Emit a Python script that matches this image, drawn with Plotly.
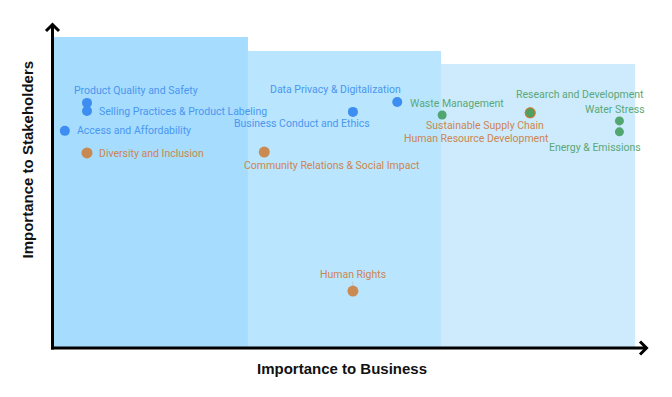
import plotly.graph_objects as go

# ---- data ----
topics = [
    "Product Quality and Safety", "Selling Practices & Product Labeling",
    "Access and Affordability", "Diversity and Inclusion",
    "Community Relations & Social Impact", "Business Conduct and Ethics",
    "Data Privacy & Digitalization", "Waste Management",
    "Sustainable Supply Chain", "Human Resource Development",
    "Research and Development", "Water Stress", "Energy & Emissions",
    "Human Rights",
]
business = [0.60, 0.60, 0.22, 0.60, 3.64, 5.16, 5.92, 6.69, 8.20, 8.20, 8.20, 9.73, 9.73, 5.16]
stakeholders = [7.88, 7.62, 6.98, 6.27, 6.30, 7.59, 7.91, 7.49, 7.56, 7.56, 7.56, 7.30, 6.95, 1.83]
group = ["Governance", "Governance", "Governance", "Social", "Social", "Governance",
         "Governance", "Environment", "Social", "Social", "Environment",
         "Environment", "Environment", "Social"]

zone_x0 = [0.0, 3.36, 6.67]
zone_x1 = [3.36, 6.67, 10.0]
zone_top = [10.0, 9.55, 9.13]

x_title = "Importance to Business"
y_title = "Importance to Stakeholders"

# ---- styles ----
marker_color = {"Governance": "#3d8ef0", "Social": "rgba(206,122,52,0.85)", "Environment": "rgba(72,160,100,0.92)"}
marker_size = {"Governance": 10, "Social": 11, "Environment": 9}
text_color = {"Governance": "#4a97f0", "Social": "#cc8650", "Environment": "#5aa878"}
zone_colors = ["#a6dcfe", "#b9e5fe", "#cdebfd"]

# label placement: (xanchor, xshift, yshift)
label_pos = {
    "Product Quality and Safety": ("left", -15, 12),
    "Selling Practices & Product Labeling": ("left", 10, -1),
    "Access and Affordability": ("left", 10, 0),
    "Diversity and Inclusion": ("left", 10, -1),
    "Community Relations & Social Impact": ("left", -22, -13),
    "Business Conduct and Ethics": ("right", 19, -12),
    "Data Privacy & Digitalization": ("right", 6, 12),
    "Waste Management": ("left", -34, 12),
    "Sustainable Supply Chain": ("right", 16, -13),
    "Human Resource Development": ("right", 21, -26),
    "Research and Development": ("left", -16, 18),
    "Water Stress": ("right", 28, 11),
    "Energy & Emissions": ("right", 24, -16),
    "Human Rights": ("center", 0, 17),
}

fig = go.Figure()

for i in range(len(zone_x0)):
    fig.add_shape(type="rect", xref="x", yref="y", x0=zone_x0[i], x1=zone_x1[i],
                  y0=0, y1=zone_top[i], fillcolor=zone_colors[i], line_width=0, layer="below")

for g in ["Governance", "Social", "Environment"]:
    idx = [i for i in range(len(topics)) if group[i] == g]
    fig.add_trace(go.Scatter(
        x=[business[i] for i in idx], y=[stakeholders[i] for i in idx],
        text=[topics[i] for i in idx], mode="markers", name=g,
        marker=dict(color=marker_color[g], size=marker_size[g], line_width=0),
        hoverinfo="text", showlegend=False,
    ))

annotations = []
for i, t in enumerate(topics):
    xa, xs, ys = label_pos[t]
    annotations.append(dict(
        x=business[i], y=stakeholders[i], xref="x", yref="y", text=t,
        showarrow=False, xanchor=xa, yanchor="middle", xshift=xs, yshift=ys,
        font=dict(family="Roboto", size=10.5, color=text_color[group[i]]),
    ))
# leader line for Human Rights
hr = topics.index("Human Rights")
annotations.append(dict(x=business[hr], y=stakeholders[hr], xref="x", yref="y", text="",
                        showarrow=True, ax=0, ay=-11, arrowhead=0, arrowwidth=0.6,
                        arrowcolor="rgba(200,140,90,0.5)", standoff=4))

annotations.append(dict(x=0.4866, y=-0.064, xref="paper", yref="paper", text="<b>" + x_title + "</b>",
                        showarrow=False, xanchor="center", yanchor="middle",
                        font=dict(family="Liberation Sans, Arial", size=15, color="#111")))
annotations.append(dict(x=-0.041, y=0.577, xref="paper", yref="paper", text="<b>" + y_title + "</b>",
                        showarrow=False, xanchor="center", yanchor="middle", textangle=-90,
                        font=dict(family="Liberation Sans, Arial", size=15, color="#111")))

W, H = 596.0, 326.0
def px(xp):
    return (xp - 52) / W
def py(yp):
    return (348 - yp) / H

axis_line = dict(color="black", width=3)
fig.add_shape(type="line", xref="paper", yref="paper", x0=px(52.5), x1=px(52.5), y0=py(349.5), y1=py(24),
              line=axis_line, layer="above")
fig.add_shape(type="line", xref="paper", yref="paper", x0=px(51), x1=px(646), y0=py(348), y1=py(348),
              line=axis_line, layer="above")
fig.add_shape(type="path", xref="paper", yref="paper",
              path=f"M {px(46)} {py(31)} L {px(52.5)} {py(24.5)} L {px(59)} {py(31)}",
              line=axis_line, layer="above")
fig.add_shape(type="path", xref="paper", yref="paper",
              path=f"M {px(640)} {py(341.5)} L {px(646.5)} {py(348)} L {px(640)} {py(354.5)}",
              line=axis_line, layer="above")

# page body has an 8px margin, so the figure is offset by 8px
fig.update_layout(
    width=664, height=389,
    margin=dict(l=44, r=24, t=14, b=49),
    paper_bgcolor="white", plot_bgcolor="white",
    xaxis=dict(range=[0, 10.22], visible=False, fixedrange=True),
    yaxis=dict(range=[0, 10.48], visible=False, fixedrange=True),
    annotations=annotations,
)

fig.write_html("out.html")
